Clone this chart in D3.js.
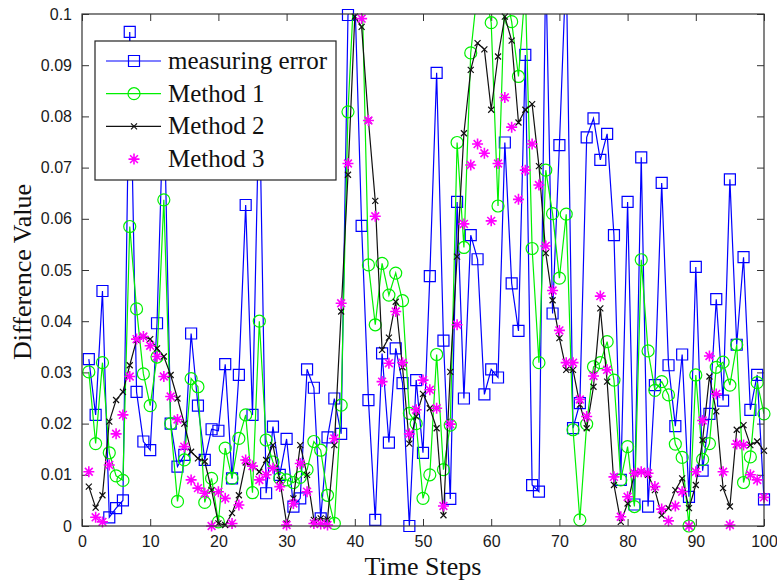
<!DOCTYPE html>
<html>
<head>
<meta charset="utf-8">
<script src="https://cdn.jsdelivr.net/npm/d3@7"></script>
<style>
  body { margin: 0; background: #fff; }
  svg { display: block; }
  .tick text { font-family: "Liberation Sans", Arial, sans-serif; font-size: 16px; fill: #1a1a1a; }
  .tick line { stroke: #333; }
</style>
</head>
<body>
<div class="canvas"></div>
<script>
// values, time steps 1..100
const measuringError = [
  0.0326, 0.0217, 0.0459, 0.0017, 0.0035, 0.0050, 0.0965, 0.0262, 0.0165, 0.0148,
  0.0396, 0.0850, 0.0200, 0.0116, 0.0139, 0.0376, 0.0235, 0.0129, 0.0189, 0.0186,
  0.0316, 0.0093, 0.0295, 0.0627, 0.0217, 0.0850, 0.0064, 0.0194, 0.0100, 0.0170,
  0.0038, 0.0054, 0.0306, 0.0270, 0.0015, 0.0173, 0.0249, 0.0180, 0.0998, 0.1040,
  0.0586, 0.0246, 0.0012, 0.0337, 0.0163, 0.0347, 0.0279, 0.0000, 0.0285, 0.0143,
  0.0488, 0.0885, 0.0362, 0.0053, 0.0633, 0.0249, 0.0568, 0.0521, 0.0257, 0.0306,
  0.0290, 0.0749, 0.0474, 0.0381, 0.0920, 0.0080, 0.0067, 0.1100, 0.0415, 0.0744,
  0.1100, 0.0191, 0.0240, 0.0759, 0.0796, 0.0715, 0.0766, 0.0568, 0.0090, 0.0633,
  0.0042, 0.0720, 0.0038, 0.0275, 0.0670, 0.0314, 0.0195, 0.0335, 0.0057, 0.0506,
  0.0108, 0.0219, 0.0443, 0.0245, 0.0677, 0.0354, 0.0525, 0.0227, 0.0295, 0.0052
]

const method1 = [
  0.0301, 0.0161, 0.0319, 0.0143, 0.0098, 0.0089, 0.0585, 0.0424, 0.0297, 0.0235,
  0.0330, 0.0637, 0.0200, 0.0048, 0.0129, 0.0288, 0.0272, 0.0046, 0.0093, 0.0008,
  0.0152, 0.0093, 0.0171, 0.0217, 0.0065, 0.0400, 0.0168, 0.0125, 0.0093, 0.0090,
  0.0085, 0.0095, 0.0110, 0.0165, 0.0148, 0.0060, 0.0005, 0.0236, 0.0809, 0.1080,
  0.1080, 0.0510, 0.0393, 0.0513, 0.0451, 0.0494, 0.0440, 0.0220, 0.0200, 0.0054,
  0.0100, 0.0335, 0.0110, 0.0197, 0.0749, 0.0544, 0.0924, 0.1050, 0.1050, 0.0983,
  0.0625, 0.1050, 0.0985, 0.0878, 0.1050, 0.0542, 0.0319, 0.0695, 0.0610, 0.0484,
  0.0609, 0.0188, 0.0012, 0.0199, 0.0311, 0.0319, 0.0360, 0.0285, 0.0090, 0.0155,
  0.0038, 0.0520, 0.0342, 0.0265, 0.0282, 0.0256, 0.0160, 0.0134, 0.0000, 0.0295,
  0.0130, 0.0161, 0.0310, 0.0320, 0.0275, 0.0354, 0.0085, 0.0135, 0.0280, 0.0219
]

const method2 = [
  0.0077, 0.0036, 0.0060, 0.0204, 0.0246, 0.0262, 0.0314, 0.0363, 0.0370, 0.0365,
  0.0347, 0.0331, 0.0295, 0.0249, 0.0200, 0.0145, 0.0132, 0.0126, 0.0070, 0.0005,
  0.0002, 0.0025, 0.0060, 0.0124, 0.0117, 0.0106, 0.0129, 0.0158, 0.0090, 0.0005,
  0.0054, 0.0158, 0.0100, 0.0012, 0.0015, 0.0013, 0.0158, 0.0419, 0.0686, 0.0995,
  0.0975, 0.0792, 0.0635, 0.0344, 0.0368, 0.0438, 0.0310, 0.0161, 0.0214, 0.0258,
  0.0230, 0.0191, 0.0021, 0.0301, 0.0526, 0.0767, 0.0891, 0.0943, 0.0931, 0.0813,
  0.0917, 0.0995, 0.0948, 0.0788, 0.0813, 0.0824, 0.0703, 0.0533, 0.0441, 0.0367,
  0.0305, 0.0305, 0.0237, 0.0191, 0.0272, 0.0425, 0.0282, 0.0080, 0.0008, 0.0044,
  0.0103, 0.0106, 0.0100, 0.0070, 0.0021, 0.0035, 0.0070, 0.0093, 0.0035, 0.0080,
  0.0168, 0.0292, 0.0224, 0.0074, 0.0038, 0.0188, 0.0197, 0.0158, 0.0165, 0.0147
]

const method3 = [
  0.0106, 0.0017, 0.0008, 0.0119, 0.0180, 0.0217, 0.0292, 0.0365, 0.0370, 0.0352,
  0.0331, 0.0292, 0.0253, 0.0208, 0.0155, 0.0090, 0.0074, 0.0064, 0.0000, 0.0067,
  0.0054, 0.0005, 0.0041, 0.0129, 0.0117, 0.0090, 0.0100, 0.0113, 0.0077, 0.0002,
  0.0044, 0.0122, 0.0067, 0.0005, 0.0004, 0.0002, 0.0171, 0.0435, 0.0708, 0.1040,
  0.0991, 0.0792, 0.0605, 0.0282, 0.0318, 0.0419, 0.0319, 0.0180, 0.0227, 0.0285,
  0.0266, 0.0230, 0.0039, 0.0199, 0.0393, 0.0590, 0.0705, 0.0746, 0.0728, 0.0596,
  0.0708, 0.0837, 0.0779, 0.0638, 0.0695, 0.0746, 0.0666, 0.0547, 0.0460, 0.0382,
  0.0319, 0.0319, 0.0247, 0.0214, 0.0293, 0.0449, 0.0305, 0.0096, 0.0018, 0.0057,
  0.0103, 0.0106, 0.0103, 0.0077, 0.0033, 0.0010, 0.0039, 0.0067, 0.0000, 0.0106,
  0.0206, 0.0332, 0.0258, 0.0106, 0.0002, 0.0160, 0.0158, 0.0100, 0.0090, 0.0056
]

const seriesNames = ['measuring error', 'Method 1', 'Method 2', 'Method 3']
const xTicks = [0, 10, 20, 30, 40, 50, 60, 70, 80, 90, 100]
const yTicks = [0, 0.01, 0.02, 0.03, 0.04, 0.05, 0.06, 0.07, 0.08, 0.09, 0.1]
const yTickLabels = ['0', '0.01', '0.02', '0.03', '0.04', '0.05', '0.06', '0.07', '0.08', '0.09', '0.1']

const dims = { width: 777, height: 580 }
const plot = { left: 82, right: 764, top: 14, bottom: 526 }

const svg = d3.select('.canvas')
  .append('svg')
  .attr('width', dims.width)
  .attr('height', dims.height)

const x = d3.scaleLinear().domain([0, 100]).range([plot.left, plot.right])
const y = d3.scaleLinear().domain([0, 0.1]).range([plot.bottom, plot.top])

svg.append('clipPath').attr('id', 'plotClip')
  .append('rect')
  .attr('x', plot.left).attr('y', plot.top)
  .attr('width', plot.right - plot.left).attr('height', plot.bottom - plot.top)

// axes, ticks pointing inward on all four sides
const tick = 7
svg.append('g')
  .attr('transform', `translate(0, ${plot.bottom})`)
  .call(d3.axisBottom(x).tickValues(xTicks).tickSize(-tick).tickSizeOuter(0).tickPadding(10))
svg.append('g')
  .attr('transform', `translate(0, ${plot.top})`)
  .call(d3.axisTop(x).tickValues(xTicks).tickSize(-tick).tickSizeOuter(0).tickFormat(''))
svg.append('g')
  .attr('transform', `translate(${plot.left}, 0)`)
  .call(d3.axisLeft(y).tickValues(yTicks).tickSize(-tick).tickSizeOuter(0).tickPadding(10)
    .tickFormat((d, i) => yTickLabels[i]))
svg.append('g')
  .attr('transform', `translate(${plot.right}, 0)`)
  .call(d3.axisRight(y).tickValues(yTicks).tickSize(-tick).tickSizeOuter(0).tickFormat(''))
svg.selectAll('.domain').remove()
svg.selectAll('.tick line').attr('stroke', '#333')

const lineGen = d3.line()
  .x((d, i) => x(i + 1))
  .y(d => y(d))

// MATLAB hides markers that fall outside the axes limits
const inRange = d => d >= 0 && d <= 0.1

const sq = 5.5
const markerPath = {
  square: `M${-sq},${-sq}H${sq}V${sq}H${-sq}Z`,
  cross: 'M-3,-3L3,3M-3,3L3,-3',
  star: 'M-5.5,0H5.5M0,-5.5V5.5M-3.9,-3.9L3.9,3.9M-3.9,3.9L3.9,-3.9'
}

const series = [
  { name: seriesNames[0], values: measuringError, colour: '#0000ff', line: true, marker: 'square' },
  { name: seriesNames[1], values: method1, colour: '#00f000', line: true, marker: 'circle' },
  { name: seriesNames[2], values: method2, colour: '#111', line: true, marker: 'cross' },
  { name: seriesNames[3], values: method3, colour: '#ff00ff', line: false, marker: 'star' }
]

const drawMarker = (sel, s) => {
  if (s.marker === 'circle') {
    sel.append('circle').attr('r', 6)
      .attr('fill', 'none').attr('stroke', s.colour).attr('stroke-width', 1.2)
  } else {
    sel.append('path').attr('d', markerPath[s.marker])
      .attr('fill', 'none').attr('stroke', s.colour)
      .attr('stroke-width', s.marker === 'star' ? 1.6 : 1.2)
  }
}

const graph = svg.append('g')

series.forEach(s => {
  if (s.line) {
    graph.append('path')
      .attr('clip-path', 'url(#plotClip)')
      .attr('d', lineGen(s.values))
      .attr('fill', 'none')
      .attr('stroke', s.colour)
      .attr('stroke-width', 1.2)
  }
  const pts = s.values.map((v, i) => ({ v, i })).filter(p => inRange(p.v))
  graph.append('g').selectAll('g')
    .data(pts)
    .enter()
    .append('g')
      .attr('transform', p => `translate(${x(p.i + 1)}, ${y(p.v)})`)
      .each(function () { drawMarker(d3.select(this), s) })
})

// box
svg.append('rect')
  .attr('x', plot.left).attr('y', plot.top)
  .attr('width', plot.right - plot.left).attr('height', plot.bottom - plot.top)
  .attr('fill', 'none').attr('stroke', '#333').attr('stroke-width', 1.2)

// legend
const legendGroup = svg.append('g').attr('transform', 'translate(95, 41)')
legendGroup.append('rect')
  .attr('width', 241).attr('height', 139)
  .attr('fill', '#fff').attr('stroke', '#222').attr('stroke-width', 1.2)

series.forEach((s, k) => {
  const row = legendGroup.append('g').attr('transform', `translate(0, ${20 + k * 32.7})`)
  if (s.line) {
    row.append('line').attr('x1', 11).attr('x2', 66)
      .attr('stroke', s.colour).attr('stroke-width', 1.2)
  }
  const m = row.append('g').attr('transform', 'translate(39, 0)')
  drawMarker(m, s)
  row.append('text')
    .attr('x', 73).attr('y', 8)
    .attr('font-family', '"Liberation Serif", "Times New Roman", serif')
    .attr('font-size', 25)
    .attr('fill', '#111')
    .text(s.name)
})

// axis titles
svg.append('text')
  .attr('x', (plot.left + plot.right) / 2).attr('y', 575)
  .attr('text-anchor', 'middle')
  .attr('font-family', '"Liberation Serif", "Times New Roman", serif')
  .attr('font-size', 26).attr('fill', '#111')
  .text('Time Steps')

svg.append('text')
  .attr('transform', 'translate(31, 272) rotate(-90)')
  .attr('text-anchor', 'middle')
  .attr('font-family', '"Liberation Serif", "Times New Roman", serif')
  .attr('font-size', 26).attr('fill', '#111')
  .text('Difference Value')
</script>
</body>
</html>
